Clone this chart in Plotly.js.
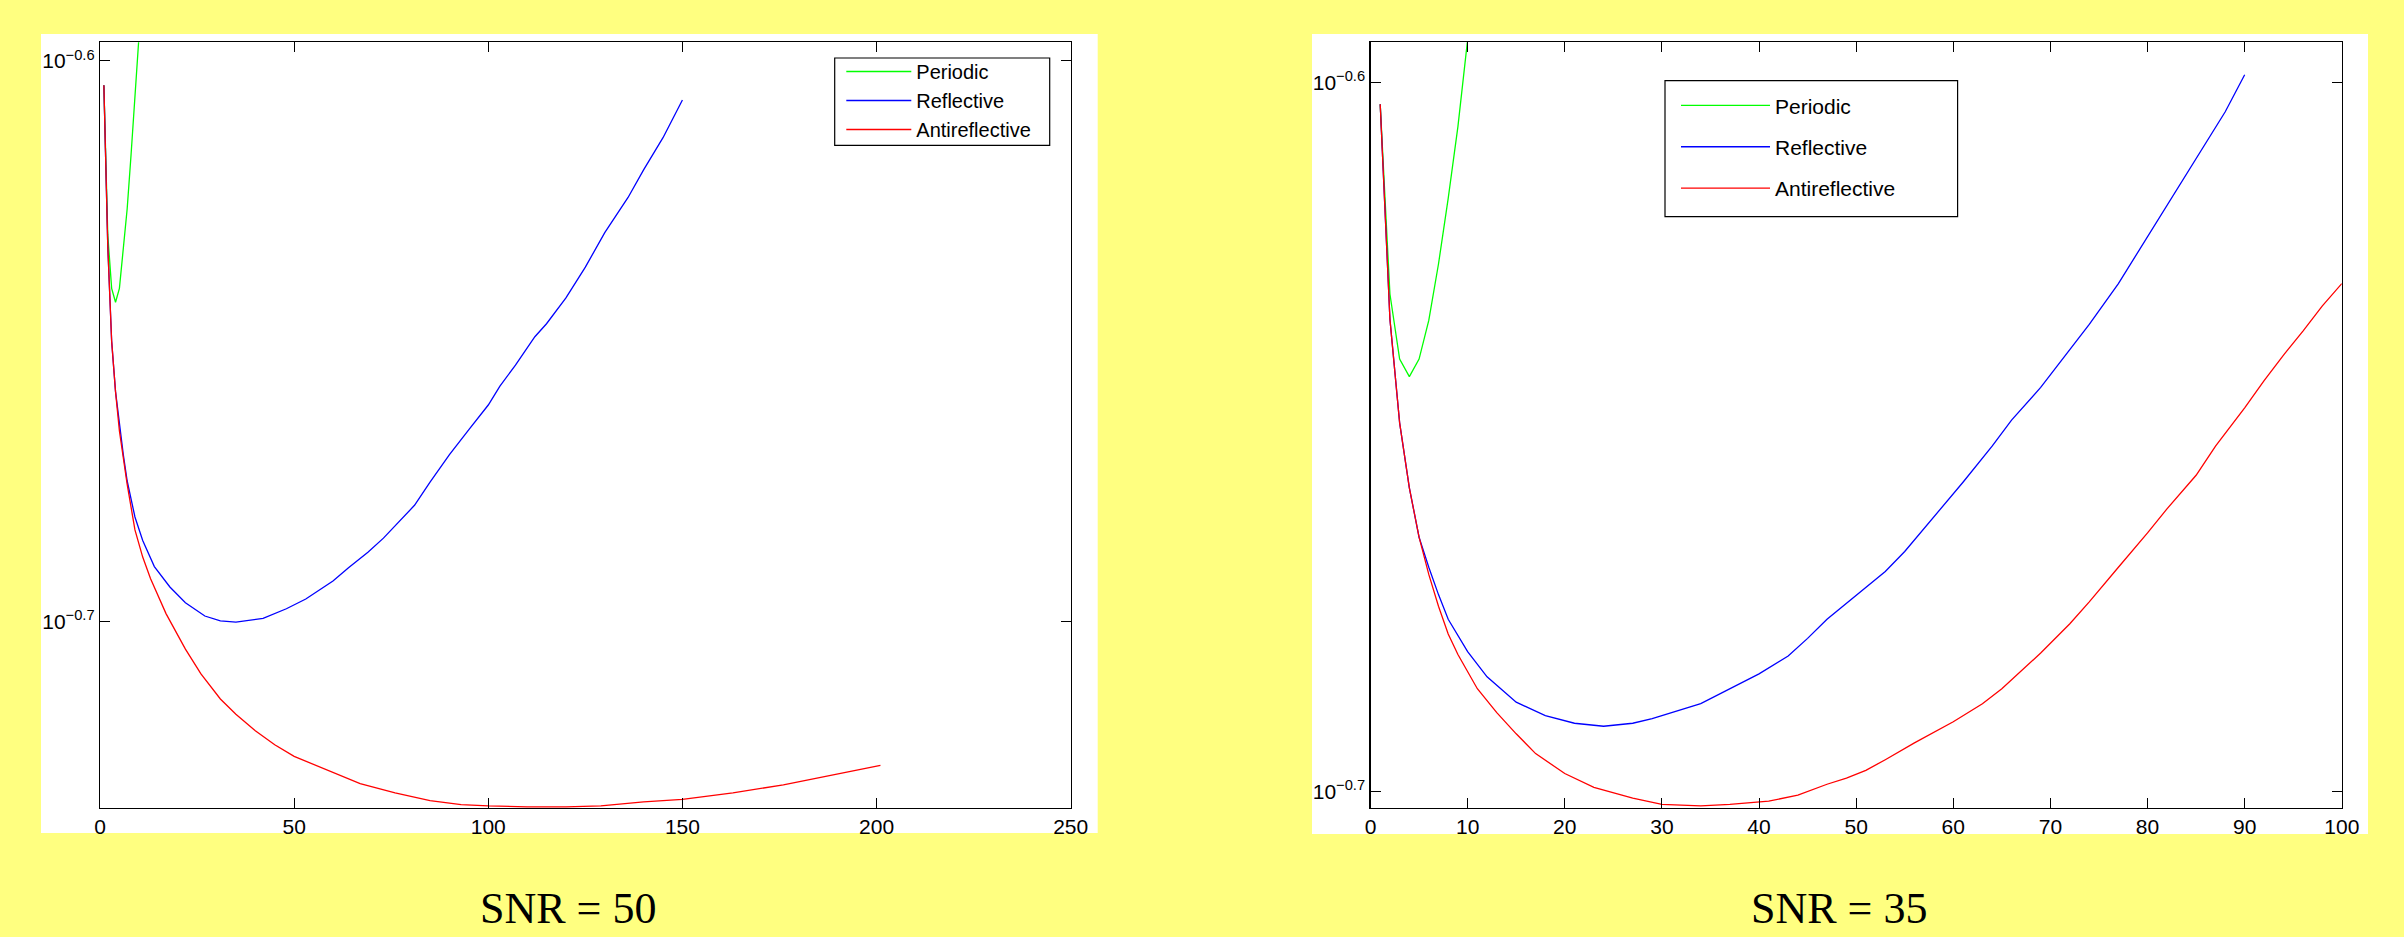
<!DOCTYPE html>
<html>
<head>
<meta charset="utf-8">
<script src="https://cdn.plot.ly/plotly-3.0.1.min.js"></script>
<style>html,body{margin:0;padding:0;background:#FFFF80;}#chart{width:2404px;height:937px;}</style>
</head>
<body>
<div id="chart"></div>
<script>
// ---- SNR = 50 (left panel) ----
const snr50_periodic_x = [1, 2, 3, 4, 5, 6, 7, 8, 9, 10];
const snr50_periodic_y = [0.2487, 0.2339, 0.2288, 0.2275, 0.2288, 0.2325, 0.2364, 0.2417, 0.2472, 0.2535];

const snr50_reflective_x = [1, 2, 3, 4, 6, 7, 9, 11, 14, 18, 22, 27, 31, 35, 42, 48, 53, 60, 64, 69, 73, 77, 81, 85, 90, 95, 100, 103, 107, 112, 115, 120, 125, 130, 136, 140, 145, 150];
const snr50_reflective_y = [0.2487, 0.2328, 0.2239, 0.2193, 0.2137, 0.2114, 0.2083, 0.2063, 0.2041, 0.2024, 0.2011, 0.2000, 0.1996, 0.1995, 0.1998, 0.2006, 0.2014, 0.2029, 0.2040, 0.2053, 0.2065, 0.2079, 0.2093, 0.2113, 0.2137, 0.2159, 0.2181, 0.2198, 0.2217, 0.2243, 0.2255, 0.2279, 0.2308, 0.2341, 0.2375, 0.2402, 0.2434, 0.2472];

const snr50_antireflective_x = [1, 2, 3, 4, 5, 7, 9, 11, 13, 17, 22, 26, 31, 35, 40, 45, 50, 59, 67, 76, 85, 93, 100, 110, 120, 129, 140, 150, 163, 176, 189, 201];
const snr50_antireflective_y = [0.2487, 0.2328, 0.2239, 0.2193, 0.2158, 0.2111, 0.2072, 0.2049, 0.2031, 0.2002, 0.1973, 0.1953, 0.1933, 0.1921, 0.1908, 0.1897, 0.1888, 0.1877, 0.1867, 0.1860, 0.1854, 0.1851, 0.1850, 0.18493, 0.18493, 0.1850, 0.1853, 0.1855, 0.1860, 0.1866, 0.1874, 0.1881];

// ---- SNR = 35 (right panel) ----
const snr35_periodic_x = [1, 2, 3, 4, 5, 6, 7, 8, 9, 10];
const snr35_periodic_y = [0.2494, 0.2345, 0.2296, 0.2283, 0.2296, 0.2325, 0.2368, 0.2419, 0.2476, 0.2547];

const snr35_reflective_x = [1, 2, 3, 4, 5, 6, 7, 8, 10, 12, 15, 18, 21, 24, 27, 29, 34, 37, 40, 43, 45, 47, 49, 51, 53, 55, 58, 61, 64, 66, 69, 71, 74, 77, 80, 82, 85, 88, 90];
const snr35_reflective_y = [0.2494, 0.2326, 0.2249, 0.2202, 0.2167, 0.2146, 0.2127, 0.2110, 0.2088, 0.2071, 0.2054, 0.2045, 0.2040, 0.2038, 0.2040, 0.2043, 0.2053, 0.2063, 0.2073, 0.2085, 0.2097, 0.2110, 0.2121, 0.2132, 0.2143, 0.2157, 0.2181, 0.2206, 0.2232, 0.2251, 0.2275, 0.2294, 0.2322, 0.2353, 0.2389, 0.2413, 0.2450, 0.2488, 0.2518];

const snr35_antireflective_x = [1, 2, 3, 4, 5, 6, 7, 8, 9, 11, 13, 15, 17, 20, 23, 27, 30, 34, 37, 41, 44, 47, 49, 51, 53, 56, 60, 63, 65, 69, 72, 74, 77, 80, 82, 85, 87, 90, 92, 94, 96, 98, 100];
const snr35_antireflective_y = [0.2494, 0.2326, 0.2249, 0.2202, 0.2167, 0.2141, 0.2119, 0.2100, 0.2086, 0.2063, 0.2047, 0.2033, 0.2020, 0.2007, 0.1998, 0.1991, 0.1987, 0.1986, 0.1987, 0.1989, 0.1993, 0.2000, 0.2004, 0.2009, 0.2016, 0.2027, 0.2041, 0.2053, 0.2063, 0.2087, 0.2107, 0.2122, 0.2146, 0.2170, 0.2187, 0.2211, 0.2232, 0.2260, 0.2280, 0.2299, 0.2317, 0.2336, 0.2353];

const seriesNames = ['Periodic', 'Reflective', 'Antireflective'];
const seriesColors = ['#00FF00', '#0000FF', '#FF0000'];
const xTicksLeft = [0, 50, 100, 150, 200, 250];
const xTicksRight = [0, 10, 20, 30, 40, 50, 60, 70, 80, 90, 100];
const yTickExponents = [-0.7, -0.6];
const panelTitles = ['SNR = 50', 'SNR = 35'];

const W = 2404, H = 937;
const px = v => v / W;
const py = v => 1 - v / H;

const FONT = 'Liberation Sans, Arial, Helvetica, sans-serif';

function mk(x, y, i, xa, ya, leg) {
  return {
    x: x, y: y, type: 'scatter', mode: 'lines',
    name: seriesNames[i], xaxis: xa, yaxis: ya, legend: leg,
    legendgroup: leg + i,
    line: {color: seriesColors[i], width: 1.3},
    hoverinfo: 'x+y'
  };
}

const traces = [
  mk(snr50_periodic_x, snr50_periodic_y, 0, 'x', 'y', 'legend'),
  mk(snr50_reflective_x, snr50_reflective_y, 1, 'x', 'y', 'legend'),
  mk(snr50_antireflective_x, snr50_antireflective_y, 2, 'x', 'y', 'legend'),
  mk(snr35_periodic_x, snr35_periodic_y, 0, 'x2', 'y2', 'legend2'),
  mk(snr35_reflective_x, snr35_reflective_y, 1, 'x2', 'y2', 'legend2'),
  mk(snr35_antireflective_x, snr35_antireflective_y, 2, 'x2', 'y2', 'legend2')
];

const yTickVals = yTickExponents.map(e => Math.pow(10, e));
const yTickText = yTickExponents.map(e => '10<sup>\u2212' + Math.abs(e).toFixed(1) + '</sup>');

function xaxisCfg(domain, range, ticks, anchor) {
  return {
    domain: domain, range: range, tickvals: ticks, ticktext: ticks.map(String),
    ticks: 'inside', ticklen: 10, tickwidth: 1, tickcolor: '#000',
    showline: true, linecolor: '#000', linewidth: 1.2, mirror: 'ticks',
    showgrid: false, zeroline: false, anchor: anchor,
    tickfont: {family: FONT, size: 21, color: '#000'}
  };
}
function yaxisCfg(range, anchor) {
  return {
    type: 'log', domain: [py(808), py(42.3)], range: range,
    tickvals: yTickVals, ticktext: yTickText,
    ticks: 'inside', ticklen: 10, tickwidth: 1, tickcolor: '#000',
    showline: true, linecolor: '#000', linewidth: 1.2, mirror: 'ticks',
    showgrid: false, zeroline: false, anchor: anchor,
    tickfont: {family: FONT, size: 21, color: '#000'}
  };
}

function boxShape(x0, x1, y0, y1, layer, lw) {
  return {type: 'rect', xref: 'paper', yref: 'paper', x0: px(x0), x1: px(x1), y0: py(y1), y1: py(y0),
          fillcolor: '#FFFFFF', line: {width: lw, color: '#000'}, layer: layer};
}

const layout = {
  width: W, height: H,
  margin: {l: 0, r: 0, t: 0, b: 0, pad: 0},
  paper_bgcolor: '#FFFF80',
  plot_bgcolor: '#FFFFFF',
  showlegend: true,
  xaxis: xaxisCfg([px(100), px(1070.7)], [0, 250], xTicksLeft, 'y'),
  yaxis: yaxisCfg([-0.7332, -0.59667], 'x'),
  xaxis2: xaxisCfg([px(1370.5), px(2341.8)], [0, 100], xTicksRight, 'y2'),
  yaxis2: yaxisCfg([-0.70232, -0.59436], 'x2'),
  legend: {
    x: px(841.3), y: py(52), xanchor: 'left', yanchor: 'top',
    bgcolor: 'rgba(0,0,0,0)', borderwidth: 0,
    font: {family: FONT, size: 20, color: '#000'},
    itemwidth: 65, traceorder: 'normal', tracegroupgap: 0
  },
  legend2: {
    x: px(1676), y: py(85.3), xanchor: 'left', yanchor: 'top',
    bgcolor: 'rgba(0,0,0,0)', borderwidth: 0,
    font: {family: FONT, size: 21, color: '#000'},
    itemwidth: 89, traceorder: 'grouped', tracegroupgap: 11
  },
  shapes: [
    boxShape(41, 1097.7, 34, 833, 'below', 0),
    boxShape(1312, 2368, 34, 834, 'below', 0),
    boxShape(834.7, 1049.7, 58, 145.3, 'above', 1.2),
    boxShape(1665, 1957.6, 80.7, 216.7, 'above', 1.2)
  ],
  annotations: [
    {text: panelTitles[0], xref: 'paper', yref: 'paper', x: px(568), y: py(908), xanchor: 'center', yanchor: 'middle',
     showarrow: false, font: {family: 'Liberation Serif, DejaVu Serif, serif', size: 44, color: '#000'}},
    {text: panelTitles[1], xref: 'paper', yref: 'paper', x: px(1839), y: py(908), xanchor: 'center', yanchor: 'middle',
     showarrow: false, font: {family: 'Liberation Serif, DejaVu Serif, serif', size: 44, color: '#000'}}
  ]
};

Plotly.newPlot('chart', traces, layout, {displayModeBar: false, staticPlot: true});
</script>
</body>
</html>
